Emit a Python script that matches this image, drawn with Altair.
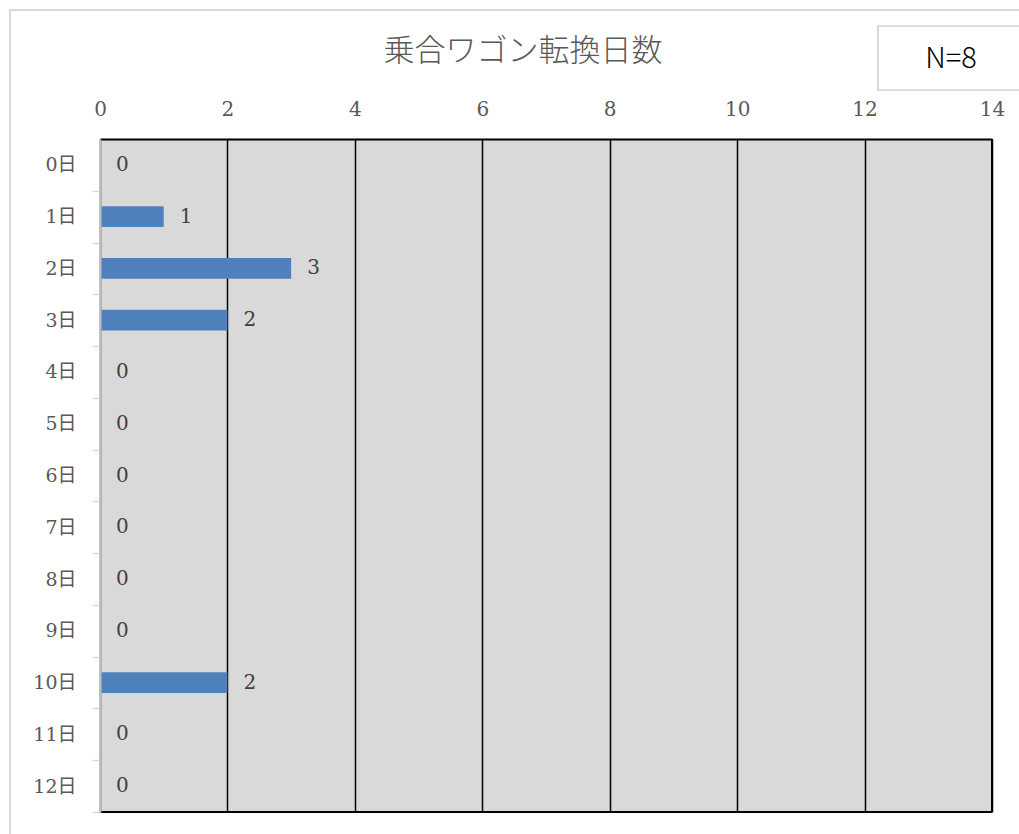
import altair as alt
import pandas as pd

categories = ["0日", "1日", "2日", "3日", "4日", "5日", "6日", "7日", "8日", "9日", "10日", "11日", "12日"]
values = [0, 1, 3, 2, 0, 0, 0, 0, 0, 0, 2, 0, 0]
x_ticks = [0, 2, 4, 6, 8, 10, 12, 14]
title_text = "乗合ワゴン転換日数"
n_text = "N=8"

df = pd.DataFrame({"cat": categories, "val": values})
deco = pd.DataFrame({"a": [0]})

W, H = 892, 673
PL, PT = 100, 139
SERIF = "DejaVu Serif, Noto Sans CJK JP"
STEP = H / len(categories)

base = alt.Chart(df)

bars = base.mark_bar(color="#4F81BD").encode(
    y=alt.Y("cat:N", sort=categories,
            scale=alt.Scale(paddingInner=0.6, paddingOuter=0.3),
            axis=alt.Axis(title=None, domainColor="#BFBFBF", domainWidth=2, zindex=1,
                          tickColor="#D9D9D9", tickWidth=1.5, tickSize=8,
                          tickOffset=STEP / 2, labelOffset=-STEP / 2, labelPadding=16,
                          labelFont=SERIF, labelFontSize=19, labelColor="#595959")),
    x=alt.X("val:Q", scale=alt.Scale(domain=[0, 14], nice=False),
            axis=alt.Axis(orient="top", title=None, values=x_ticks, format="d",
                          domain=True, domainColor="#000000", domainWidth=2,
                          ticks=False, grid=True, gridColor="#000000",
                          gridWidth=1.5, labelPadding=20, labelFlush=False, labelFont=SERIF,
                          labelFontSize=20, labelColor="#595959")),
)

labels = base.mark_text(align="left", baseline="middle", dx=16, font=SERIF,
                        fontSize=20, color="#404040").encode(
    y=alt.Y("cat:N", sort=categories),
    x=alt.X("val:Q"),
    text=alt.Text("val:Q"),
)

dchart = alt.Chart(deco)
frame = dchart.mark_rect(fill=None, stroke="#D9D9D9", strokeWidth=2).encode(
    x=alt.value(10 - PL), x2=alt.value(1019 - PL + 20),
    y=alt.value(10 - PT), y2=alt.value(834 - PT + 20),
)
bottom = dchart.mark_rule(color="#000000", strokeWidth=2).encode(
    x=alt.value(0), x2=alt.value(W), y=alt.value(H),
)
right = dchart.mark_rule(color="#000000", strokeWidth=2).encode(
    x=alt.value(W), y=alt.value(0), y2=alt.value(H),
)
nbox = dchart.mark_rect(fill="white", stroke="#BFBFBF", strokeWidth=1.2).encode(
    x=alt.value(878 - PL), x2=alt.value(1019 - PL + 20),
    y=alt.value(26 - PT), y2=alt.value(90 - PT),
)
ntext = dchart.mark_text(font="Noto Sans CJK JP", fontSize=29, color="#000000",
                         align="center", baseline="middle", fontWeight=300).encode(
    x=alt.value(951 - PL), y=alt.value(59 - PT), text=alt.value(n_text),
)
title = dchart.mark_text(font="Noto Sans CJK JP", fontSize=31, color="#595959",
                         align="center", baseline="middle", fontWeight=300).encode(
    x=alt.value(523 - PL), y=alt.value(52 - PT), text=alt.value(title_text),
)

chart = alt.layer(frame, bars, labels, bottom, right, nbox, ntext, title).properties(
    width=W, height=H,
    autosize=alt.AutoSizeParams(type="none"),
    padding={"left": PL, "top": PT, "right": 1019 - PL - W, "bottom": 834 - PT - H},
).configure(background="white").configure_view(
    fill="#D9D9D9", strokeWidth=0
)

chart.save("out.html", embed_options={"renderer": "svg", "actions": False})
